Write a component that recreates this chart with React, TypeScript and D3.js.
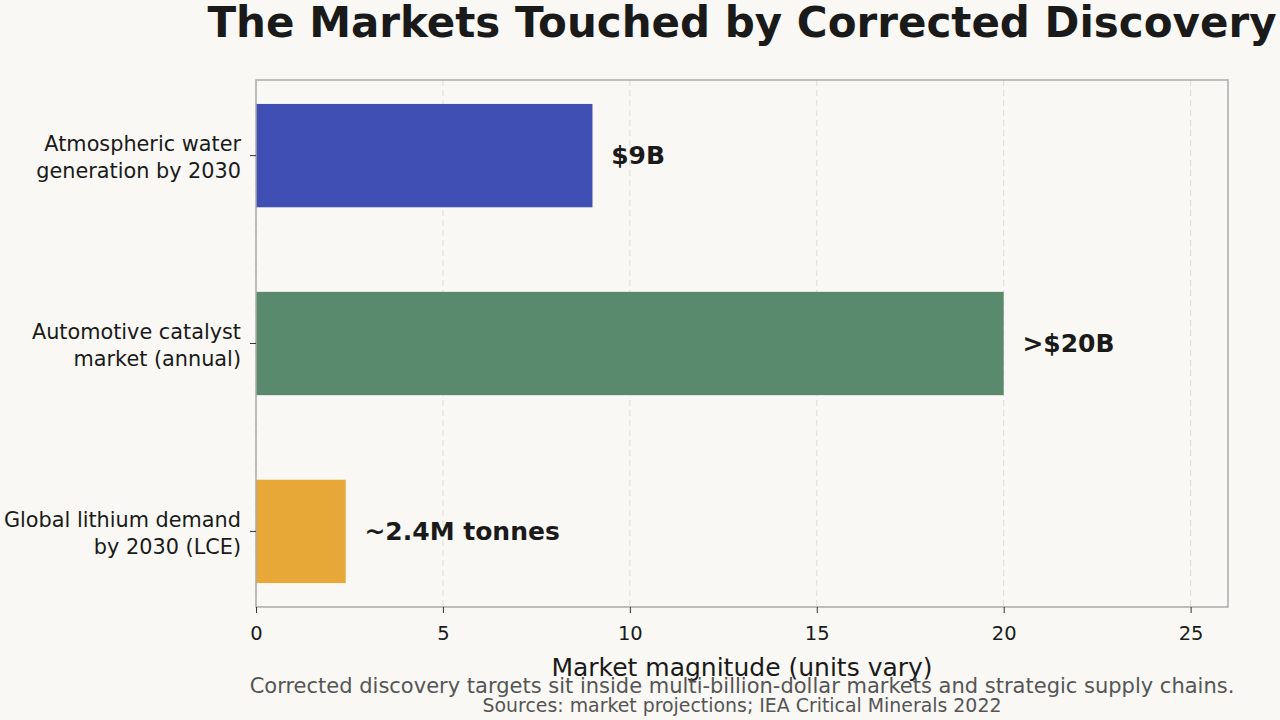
import React, { useEffect, useRef } from 'react';
import * as d3 from 'd3';

// --- data ---
const categories = [
	['Atmospheric water', 'generation by 2030'],
	['Automotive catalyst', 'market (annual)'],
	['Global lithium demand', 'by 2030 (LCE)'],
];
const values = [9, 20, 2.4];
const valueLabels = ['$9B', '>$20B', '~2.4M tonnes'];
const barColors = ['#3f4fb4', '#5a8a6e', '#e8a838'];
const xTicks = [0, 5, 10, 15, 20, 25];

const W = 1280;
const H = 720;
const margin = { top: 80, right: 52, bottom: 113, left: 256 };
const font = '"DejaVu Sans", sans-serif';

const App: React.FC = () => {
	const ref = useRef<SVGSVGElement>(null);

	useEffect(() => {
		document.body.style.margin = '0';
		if (!ref.current) return;
		const svg = d3.select(ref.current);
		svg.selectAll('*').remove();

		const x0 = margin.left;
		const x1 = W - margin.right;
		const y0 = margin.top;
		const y1 = H - margin.bottom;
		const cx = (x0 + x1) / 2;

		svg.append('rect').attr('width', W).attr('height', H).attr('fill', '#f9f8f4');

		const x = d3.scaleLinear().domain([0, 26]).range([x0, x1]);
		// matplotlib-style limits for barh with height 0.55
		const barH = 0.55;
		const y = d3
			.scaleLinear()
			.domain([-0.4025, 2.4025])
			.range([y0, y1]);

		// grid
		svg
			.append('g')
			.selectAll('line')
			.data(xTicks)
			.enter()
			.append('line')
			.attr('x1', (d) => x(d))
			.attr('x2', (d) => x(d))
			.attr('y1', y0)
			.attr('y2', y1)
			.attr('stroke', '#dcdcd8')
			.attr('stroke-width', 1)
			.attr('stroke-dasharray', '6,4');

		// bars
		svg
			.append('g')
			.selectAll('rect')
			.data(values)
			.enter()
			.append('rect')
			.attr('x', x(0))
			.attr('y', (d, i) => y(i - barH / 2))
			.attr('width', (d) => x(d) - x(0))
			.attr('height', (d, i) => y(i + barH / 2) - y(i - barH / 2))
			.attr('fill', (d, i) => barColors[i]);

		// value labels
		svg
			.append('g')
			.selectAll('text')
			.data(values)
			.enter()
			.append('text')
			.attr('x', (d) => x(d + 0.5))
			.attr('y', (d, i) => y(i))
			.attr('dominant-baseline', 'central')
			.attr('font-family', font)
			.attr('font-weight', 'bold')
			.attr('font-size', 25)
			.attr('fill', '#1a1a1a')
			.text((d, i) => valueLabels[i]);

		// frame
		svg
			.append('rect')
			.attr('x', x0)
			.attr('y', y0)
			.attr('width', x1 - x0)
			.attr('height', y1 - y0)
			.attr('fill', 'none')
			.attr('stroke', '#aaaaaa')
			.attr('stroke-width', 1.5);

		// x axis
		const gx = svg
			.append('g')
			.attr('transform', `translate(0,${y1})`)
			.call(d3.axisBottom(x).tickValues(xTicks).tickSize(6).tickPadding(13).tickFormat(d3.format('d')));
		gx.select('.domain').remove();
		gx.selectAll('line').attr('stroke', '#333');
		gx.selectAll('text')
			.attr('font-family', font)
			.attr('font-size', 19.5)
			.attr('fill', '#1a1a1a');

		// y tick marks & labels
		const gy = svg.append('g');
		categories.forEach((lines, i) => {
			gy.append('line')
				.attr('x1', x0 - 6)
				.attr('x2', x0)
				.attr('y1', y(i))
				.attr('y2', y(i))
				.attr('stroke', '#333');
			const t = gy
				.append('text')
				.attr('text-anchor', 'end')
				.attr('font-family', font)
				.attr('font-size', 20.8)
				.attr('fill', '#1a1a1a');
			lines.forEach((l, j) => {
				t.append('tspan')
					.attr('x', x0 - 15)
					.attr('y', y(i) + (j - 0.5) * 27.5 + 9)
					.text(l);
			});
		});

		// titles
		svg
			.append('text')
			.attr('x', cx)
			.attr('y', 37)
			.attr('text-anchor', 'middle')
			.attr('font-family', font)
			.attr('font-weight', 'bold')
			.attr('font-size', 42)
			.attr('fill', '#1a1a1a')
			.text('The Markets Touched by Corrected Discovery');

		svg
			.append('text')
			.attr('x', cx)
			.attr('y', 676)
			.attr('text-anchor', 'middle')
			.attr('font-family', font)
			.attr('font-size', 25)
			.attr('fill', '#1a1a1a')
			.text('Market magnitude (units vary)');

		svg
			.append('text')
			.attr('x', cx)
			.attr('y', 693)
			.attr('text-anchor', 'middle')
			.attr('font-family', font)
			.attr('font-size', 21)
			.attr('fill', '#555555')
			.text('Corrected discovery targets sit inside multi-billion-dollar markets and strategic supply chains.');

		svg
			.append('text')
			.attr('x', cx)
			.attr('y', 712)
			.attr('text-anchor', 'middle')
			.attr('font-family', font)
			.attr('font-size', 18.9)
			.attr('fill', '#555555')
			.text('Sources: market projections; IEA Critical Minerals 2022');
	}, []);

	return <svg ref={ref} width={W} height={H} style={{ display: 'block' }} />;
};

export default App;
